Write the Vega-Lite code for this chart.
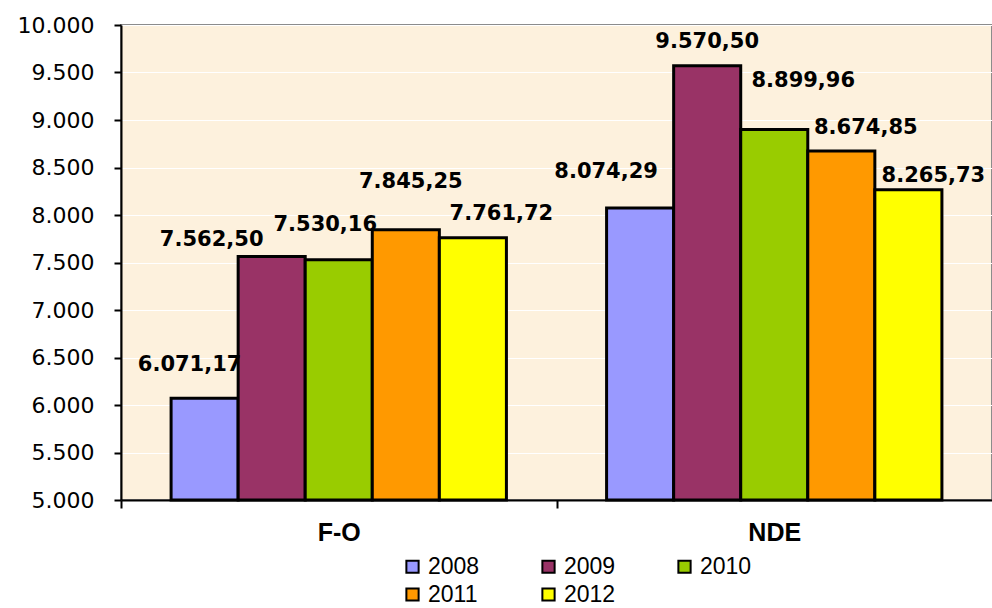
{
  "$schema": "https://vega.github.io/schema/vega-lite/v6.json",
  "width": 871,
  "height": 475,
  "autosize": {"type": "none"},
  "padding": {"left": 121, "top": 25, "right": 0, "bottom": 108},
  "background": "white",
  "config": {
    "locale": {"number": {"decimal": ",", "thousands": ".", "grouping": [3], "currency": ["", " €"]}},
    "view": {"fill": "#FDF1DD", "stroke": "#8C8C8C", "strokeWidth": 2}
  },
  "data": {
    "values": [
      {"g": "F-O", "year": "2008", "value": 6071.17},
      {"g": "F-O", "year": "2009", "value": 7562.50},
      {"g": "F-O", "year": "2010", "value": 7530.16},
      {"g": "F-O", "year": "2011", "value": 7845.25},
      {"g": "F-O", "year": "2012", "value": 7761.72},
      {"g": "NDE", "year": "2008", "value": 8074.29},
      {"g": "NDE", "year": "2009", "value": 9570.50},
      {"g": "NDE", "year": "2010", "value": 8899.96},
      {"g": "NDE", "year": "2011", "value": 8674.85},
      {"g": "NDE", "year": "2012", "value": 8265.73}
    ]
  },
  "encoding": {
    "x": {
      "field": "g", "type": "nominal", "sort": ["F-O", "NDE"],
      "scale": {"paddingInner": 0.23, "paddingOuter": 0.115},
      "axis": {
        "title": null, "labelAngle": 0, "ticks": true, "tickSize": 8,
        "tickOffset": -217.75, "labelOffset": 217.75,
        "tickColor": "black", "tickWidth": 2, "domainColor": "black", "domainWidth": 2,
        "labelFont": "Liberation Sans", "labelFontWeight": "bold", "labelFontSize": 25,
        "labelColor": "black", "labelPadding": 12, "grid": false
      }
    },
    "xOffset": {"field": "year", "type": "nominal", "scale": {"paddingInner": 0, "paddingOuter": 0}},
    "y": {
      "field": "value", "type": "quantitative",
      "scale": {"domain": [5000, 10000], "zero": false, "nice": false},
      "axis": {
        "title": null, "values": [5000, 5500, 6000, 6500, 7000, 7500, 8000, 8500, 9000, 9500, 10000],
        "format": ",.0f", "domainColor": "black", "domainWidth": 2, "tickColor": "black", "tickWidth": 2,
        "tickSize": 7, "labelPadding": 20, "labelFont": "DejaVu Sans", "labelFontSize": 22, "labelColor": "black",
        "grid": true, "gridColor": "white", "gridWidth": 1.2
      }
    }
  },
  "layer": [
    {
      "mark": {"type": "bar", "stroke": "black", "strokeWidth": 3},
      "encoding": {
        "y2": {"datum": 5000},
        "color": {
          "field": "year", "type": "nominal",
          "scale": {"domain": ["2008", "2009", "2010", "2011", "2012"], "range": ["#9999FF", "#993366", "#99CC00", "#FF9900", "#FFFF00"]},
          "legend": {
            "orient": "none", "legendX": 280, "legendY": 530, "direction": "horizontal", "columns": 3,
            "title": null, "symbolType": "square", "symbolSize": 150, "symbolStrokeColor": "black",
            "symbolStrokeWidth": 2, "labelFont": "Liberation Sans", "labelFontSize": 23, "labelColor": "black",
            "columnPadding": 57, "rowPadding": 4, "labelOffset": 4, "gridAlign": "all"
          }
        }
      }
    },
    {
      "mark": {
        "type": "text", "font": "DejaVu Sans", "fontWeight": "bold", "fontSize": 21, "color": "black",
        "align": "center", "baseline": "middle",
        "dx": {"expr": "({'F-O2008': -15, 'F-O2009': -60, 'F-O2010': -13.5, 'F-O2011': 5, 'F-O2012': 28.5, 'NDE2008': -34, 'NDE2009': 0, 'NDE2010': 29, 'NDE2011': 24.5, 'NDE2012': 25})[datum.g + datum.year]"},
        "dy": {"expr": "({'F-O2008': -33, 'F-O2009': -17, 'F-O2010': -35, 'F-O2011': -48, 'F-O2012': -24, 'NDE2008': -36, 'NDE2009': -24, 'NDE2010': -49, 'NDE2011': -23, 'NDE2012': -14})[datum.g + datum.year]"}
      },
      "encoding": {
        "text": {"field": "value", "type": "quantitative", "format": ",.2f"}
      }
    }
  ]
}
